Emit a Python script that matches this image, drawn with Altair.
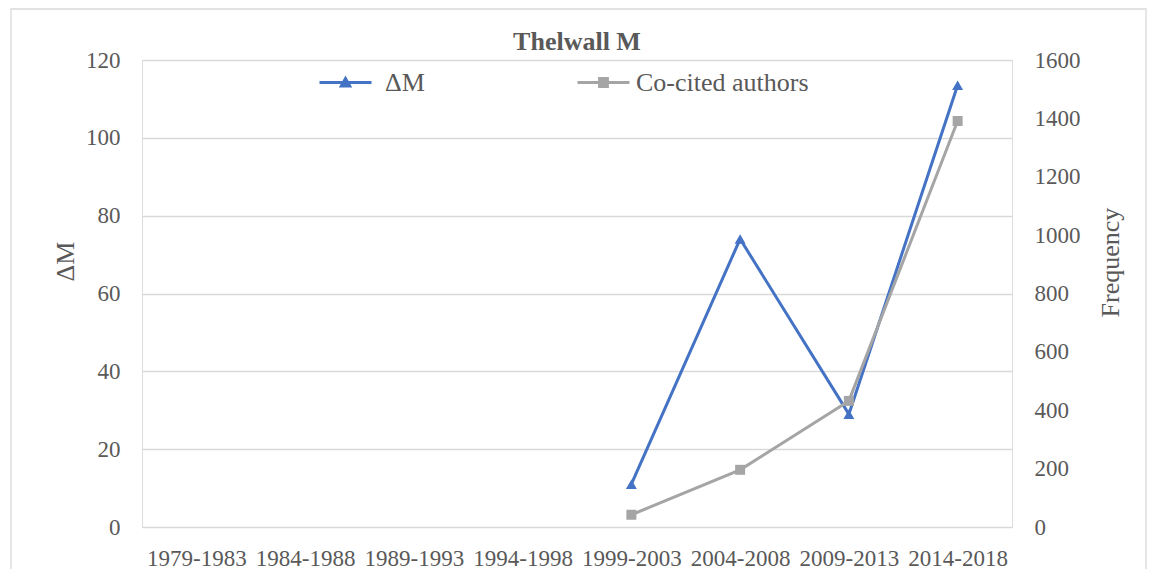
import altair as alt
import pandas as pd

periods = ["1979-1983", "1984-1988", "1989-1993", "1994-1998",
           "1999-2003", "2004-2008", "2009-2013", "2014-2018"]
delta_m = [None, None, None, None, 11, 74, 29, 113.5]
co_cited = [None, None, None, None, 42, 196, 432, 1391]
series_names = ["ΔM", "Co-cited authors"]
series_colors = ["#4472C4", "#A5A5A5"]

df = pd.DataFrame({"period": periods, "dm": delta_m, "co": co_cited})
legend_df = pd.DataFrame({"s1": [series_names[0]], "s2": [series_names[1]]})

FONT = "Liberation Serif"
TXT = "#595959"
GRID = "#D9D9D9"

tri_path = "M-1,0L1,0M-0.16,0.13L0,-0.15L0.16,0.13Z"
sq_path = "M-1,0L1,0M-0.15,-0.15L0.15,-0.15L0.15,0.15L-0.15,0.15Z"

x_enc = alt.X("period:N", sort=periods, title=None,
              axis=alt.Axis(labelAngle=0, labelFont=FONT, labelFontSize=23,
                            labelColor=TXT, domain=False, ticks=False,
                            grid=False, labelPadding=20))

y_left = alt.Y("dm:Q", scale=alt.Scale(domain=[0, 120]),
               axis=alt.Axis(title="ΔM", values=[0, 20, 40, 60, 80, 100, 120],
                             labelFont=FONT, labelFontSize=23, labelColor=TXT,
                             labelPadding=22, domain=False, ticks=False,
                             grid=True, gridColor=GRID, gridWidth=1.3,
                             titleFont=FONT, titleFontSize=26, titleColor=TXT,
                             titleFontWeight="normal", titleAngle=-90,
                             titleX=-77, titleY=201, titleAlign="center",
                             titleBaseline="middle"))
y_right = alt.Y("co:Q", scale=alt.Scale(domain=[0, 1600]),
                axis=alt.Axis(title="Frequency", orient="right", format="d",
                              values=[0, 200, 400, 600, 800, 1000, 1200, 1400, 1600],
                              labelFont=FONT, labelFontSize=23, labelColor=TXT,
                              labelPadding=22, domain=False, ticks=False,
                              grid=False,
                              titleFont=FONT, titleFontSize=26, titleColor=TXT,
                              titleFontWeight="normal", titleAngle=-90,
                              titleX=98, titleY=202, titleAlign="center",
                              titleBaseline="middle"))

base = alt.Chart(df)

common_leg = dict(title=None, orient="none", direction="horizontal",
                  padding=0, symbolSize=2704, symbolStrokeWidth=3,
                  labelFont=FONT, labelFontSize=26, labelColor=TXT,
                  labelLimit=400, legendY=-5)

leg1 = alt.Legend(legendX=176, symbolType=tri_path, labelOffset=12,
                  symbolStrokeColor=series_colors[0], symbolFillColor=series_colors[0],
                  **common_leg)
leg2 = alt.Legend(legendX=434, symbolType=sq_path, labelOffset=5,
                  symbolStrokeColor=series_colors[1], symbolFillColor=series_colors[1],
                  **common_leg)

legend_layer1 = alt.Chart(legend_df).transform_filter("false").mark_point(
    filled=True, opacity=1).encode(
    color=alt.Color("s1:N", scale=alt.Scale(domain=[series_names[0]], range=[series_colors[0]]),
                    legend=leg1))
legend_layer2 = alt.Chart(legend_df).transform_filter("false").mark_point(
    filled=True, opacity=1, fill=series_colors[1]).encode(
    stroke=alt.Stroke("s2:N", scale=alt.Scale(domain=[series_names[1]], range=[series_colors[1]]),
                      legend=leg2))

left_line = base.mark_line(color=series_colors[0], strokeWidth=3).encode(x=x_enc, y=y_left)
left_pts = base.mark_point(shape="triangle-up", filled=True, color=series_colors[0],
                           size=120, opacity=1).encode(x=x_enc, y=y_left)
right_line = base.mark_line(color=series_colors[1], strokeWidth=3).encode(x=x_enc, y=y_right)
right_pts = base.mark_point(shape="square", filled=True, color=series_colors[1],
                            size=100, opacity=1).encode(x=x_enc, y=y_right)

frame = alt.Chart(pd.DataFrame({"a": [0]})).mark_rect(
    fill=None, stroke=GRID, strokeWidth=1.3).encode(
    x=alt.value(-131), x2=alt.value(1004), y=alt.value(-51), y2=alt.value(540))

left = alt.layer(left_line, left_pts, legend_layer1, legend_layer2)
right = alt.layer(right_line, right_pts)

chart = alt.layer(frame, left, right).resolve_scale(y="independent").properties(
    width=870, height=467,
    title=alt.TitleParams("Thelwall M", font=FONT, fontSize=26, fontWeight="bold",
                          color=TXT, anchor="middle", offset=-68, baseline="alphabetic"),
    autosize=alt.AutoSizeParams(type="none"),
    padding={"left": 134, "top": 52, "right": 135, "bottom": 42},
).configure_view(stroke=None).configure(background="white")

chart.save("out.html", embed_options={"renderer": "svg", "actions": False})
